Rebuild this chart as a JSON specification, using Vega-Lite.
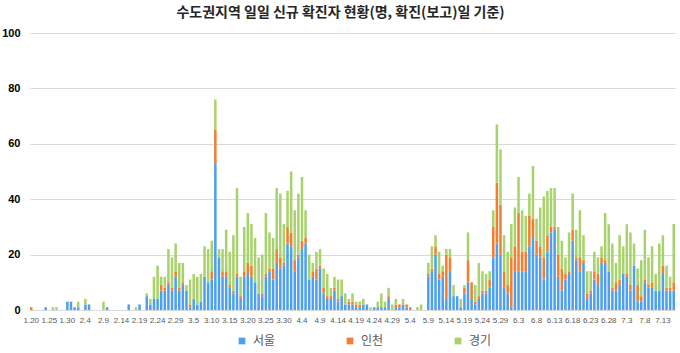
{
"$schema":"https://vega.github.io/schema/vega-lite/v6.json",
"width":645,"height":277,
"autosize":{"type":"none"},
"padding":{"left":30,"top":33,"right":5,"bottom":43},
"background":"white",
"title":{"text":"수도권지역 일일 신규 확진자 현황(명, 확진(보고)일 기준)","font":"Noto Sans CJK KR","fontSize":14,"fontWeight":"bold","color":"#262626","anchor":"middle","dx":-12,"offset":7},
"data":{"values":[
{"d":"1.20","서울":0,"인천":1,"경기":0},{"d":"1.21","서울":0,"인천":0,"경기":0},{"d":"1.22","서울":0,"인천":0,"경기":0},{"d":"1.23","서울":0,"인천":0,"경기":0},{"d":"1.24","서울":1,"인천":0,"경기":0},
{"d":"1.25","서울":0,"인천":0,"경기":0},{"d":"1.26","서울":0,"인천":0,"경기":1},{"d":"1.27","서울":0,"인천":0,"경기":1},{"d":"1.28","서울":0,"인천":0,"경기":0},{"d":"1.29","서울":0,"인천":0,"경기":0},
{"d":"1.30","서울":3,"인천":0,"경기":0},{"d":"1.31","서울":3,"인천":0,"경기":0},{"d":"2.1","서울":1,"인천":0,"경기":0},{"d":"2.2","서울":1,"인천":0,"경기":2},{"d":"2.3","서울":0,"인천":0,"경기":0},
{"d":"2.4","서울":2,"인천":0,"경기":2},{"d":"2.5","서울":2,"인천":0,"경기":0},{"d":"2.6","서울":0,"인천":0,"경기":0},{"d":"2.7","서울":0,"인천":0,"경기":0},{"d":"2.8","서울":0,"인천":0,"경기":0},
{"d":"2.9","서울":0,"인천":0,"경기":3},{"d":"2.10","서울":1,"인천":0,"경기":0},{"d":"2.11","서울":0,"인천":0,"경기":0},{"d":"2.12","서울":0,"인천":0,"경기":0},{"d":"2.13","서울":0,"인천":0,"경기":0},
{"d":"2.14","서울":0,"인천":0,"경기":0},{"d":"2.15","서울":0,"인천":0,"경기":0},{"d":"2.16","서울":2,"인천":0,"경기":0},{"d":"2.17","서울":0,"인천":0,"경기":0},{"d":"2.18","서울":0,"인천":0,"경기":1},
{"d":"2.19","서울":2,"인천":0,"경기":0},{"d":"2.20","서울":0,"인천":0,"경기":0},{"d":"2.21","서울":5,"인천":0,"경기":1},{"d":"2.22","서울":2,"인천":0,"경기":2},{"d":"2.23","서울":4,"인천":0,"경기":8},
{"d":"2.24","서울":4,"인천":0,"경기":12},{"d":"2.25","서울":7,"인천":2,"경기":3},{"d":"2.26","서울":7,"인천":1,"경기":4},{"d":"2.27","서울":9,"인천":1,"경기":12},{"d":"2.28","서울":7,"인천":1,"경기":11},
{"d":"2.29","서울":12,"인천":2,"경기":10},{"d":"3.1","서울":7,"인천":1,"경기":9},{"d":"3.2","서울":9,"인천":1,"경기":7},{"d":"3.3","서울":7,"인천":0,"경기":2},{"d":"3.4","서울":1,"인천":1,"경기":9},
{"d":"3.5","서울":4,"인천":0,"경기":9},{"d":"3.6","서울":2,"인천":0,"경기":10},{"d":"3.7","서울":3,"인천":0,"경기":10},{"d":"3.8","서울":12,"인천":0,"경기":11},{"d":"3.9","서울":10,"인천":0,"경기":12},
{"d":"3.10","서울":11,"인천":3,"경기":11},{"d":"3.11","서울":53,"인천":12,"경기":11},{"d":"3.12","서울":19,"인천":0,"경기":3},{"d":"3.13","서울":12,"인천":2,"경기":8},{"d":"3.14","서울":12,"인천":2,"경기":15},
{"d":"3.15","서울":8,"인천":1,"경기":12},{"d":"3.16","서울":6,"인천":1,"경기":20},{"d":"3.17","서울":12,"인천":1,"경기":31},{"d":"3.18","서울":4,"인천":1,"경기":7},{"d":"3.19","서울":12,"인천":2,"경기":16},
{"d":"3.20","서울":13,"인천":4,"경기":18},{"d":"3.21","서울":12,"인천":4,"경기":15},{"d":"3.22","서울":10,"인천":0,"경기":16},{"d":"3.23","서울":6,"인천":0,"경기":13},{"d":"3.24","서울":5,"인천":1,"경기":14},
{"d":"3.25","서울":12,"인천":1,"경기":22},{"d":"3.26","서울":14,"인천":1,"경기":13},{"d":"3.27","서울":11,"인천":4,"경기":11},{"d":"3.28","서울":17,"인천":5,"경기":22},{"d":"3.29","서울":15,"인천":4,"경기":23},
{"d":"3.30","서울":16,"인천":1,"경기":14},{"d":"3.31","서울":24,"인천":6,"경기":13},{"d":"4.1","서울":23,"인천":5,"경기":22},{"d":"4.2","서울":14,"인천":4,"경기":18},{"d":"4.3","서울":19,"인천":1,"경기":22},
{"d":"4.4","서울":22,"인천":3,"경기":23},{"d":"4.5","서울":24,"인천":2,"경기":10},{"d":"4.6","서울":11,"인천":0,"경기":9},{"d":"4.7","서울":12,"인천":2,"경기":3},{"d":"4.8","서울":11,"인천":4,"경기":6},
{"d":"4.9","서울":15,"인천":1,"경기":6},{"d":"4.10","서울":6,"인천":2,"경기":7},{"d":"4.11","서울":4,"인천":1,"경기":8},{"d":"4.12","서울":4,"인천":1,"경기":3},{"d":"4.13","서울":7,"인천":1,"경기":4},
{"d":"4.14","서울":3,"인천":1,"경기":7},{"d":"4.15","서울":5,"인천":0,"경기":6},{"d":"4.16","서울":2,"인천":0,"경기":4},{"d":"4.17","서울":2,"인천":1,"경기":1},{"d":"4.18","서울":2,"인천":1,"경기":3},
{"d":"4.19","서울":1,"인천":1,"경기":1},{"d":"4.20","서울":1,"인천":1,"경기":1},{"d":"4.21","서울":2,"인천":0,"경기":2},{"d":"4.22","서울":2,"인천":0,"경기":0},{"d":"4.23","서울":0,"인천":0,"경기":1},
{"d":"4.24","서울":1,"인천":0,"경기":0},{"d":"4.25","서울":1,"인천":0,"경기":2},{"d":"4.26","서울":1,"인천":0,"경기":5},{"d":"4.27","서울":1,"인천":0,"경기":2},{"d":"4.28","서울":4,"인천":1,"경기":3},
{"d":"4.29","서울":0,"인천":0,"경기":2},{"d":"4.30","서울":1,"인천":1,"경기":2},{"d":"5.1","서울":1,"인천":1,"경기":0},{"d":"5.2","서울":2,"인천":0,"경기":2},{"d":"5.3","서울":1,"인천":1,"경기":0},
{"d":"5.4","서울":0,"인천":1,"경기":0},{"d":"5.5","서울":0,"인천":0,"경기":0},{"d":"5.6","서울":0,"인천":0,"경기":1},{"d":"5.7","서울":0,"인천":0,"경기":2},{"d":"5.8","서울":0,"인천":0,"경기":0},
{"d":"5.9","서울":12,"인천":1,"경기":4},{"d":"5.10","서울":14,"인천":1,"경기":8},{"d":"5.11","서울":20,"인천":3,"경기":4},{"d":"5.12","서울":11,"인천":2,"경기":8},{"d":"5.13","서울":12,"인천":2,"경기":2},
{"d":"5.14","서울":4,"인천":16,"경기":2},{"d":"5.15","서울":14,"인천":5,"경기":3},{"d":"5.16","서울":5,"인천":0,"경기":4},{"d":"5.17","서울":5,"인천":0,"경기":0},{"d":"5.18","서울":1,"인천":0,"경기":3},
{"d":"5.19","서울":6,"인천":2,"경기":1},{"d":"5.20","서울":10,"인천":8,"경기":10},{"d":"5.21","서울":4,"인천":6,"경기":0},{"d":"5.22","서울":2,"인천":1,"경기":6},{"d":"5.23","서울":4,"인천":1,"경기":12},
{"d":"5.24","서울":6,"인천":1,"경기":7},{"d":"5.25","서울":6,"인천":1,"경기":6},{"d":"5.26","서울":8,"인천":3,"경기":3},{"d":"5.27","서울":19,"인천":11,"경기":6},{"d":"5.28","서울":24,"인천":22,"경기":21},
{"d":"5.29","서울":20,"인천":18,"경기":20},{"d":"5.30","서울":8,"인천":6,"경기":13},{"d":"5.31","서울":6,"인천":3,"경기":12},{"d":"6.1","서울":1,"인천":18,"경기":12},{"d":"6.2","서울":14,"인천":9,"경기":14},
{"d":"6.3","서울":14,"인천":21,"경기":13},{"d":"6.4","서울":14,"인천":7,"경기":15},{"d":"6.5","서울":14,"인천":7,"경기":13},{"d":"6.6","서울":23,"인천":11,"경기":8},{"d":"6.7","서울":26,"인천":7,"경기":19},
{"d":"6.8","서울":20,"인천":5,"경기":8},{"d":"6.9","서울":19,"인천":4,"경기":14},{"d":"6.10","서울":11,"인천":8,"경기":22},{"d":"6.11","서울":21,"인천":6,"경기":16},{"d":"6.12","서울":28,"인천":2,"경기":14},
{"d":"6.13","서울":29,"인천":1,"경기":14},{"d":"6.14","서울":12,"인천":8,"경기":10},{"d":"6.15","서울":7,"인천":8,"경기":10},{"d":"6.16","서울":11,"인천":2,"경기":6},{"d":"6.17","서울":13,"인천":1,"경기":14},
{"d":"6.18","서울":25,"인천":4,"경기":13},{"d":"6.19","서울":18,"인천":1,"경기":10},{"d":"6.20","서울":14,"인천":5,"경기":17},{"d":"6.21","서울":17,"인천":1,"경기":9},{"d":"6.22","서울":4,"인천":2,"경기":8},
{"d":"6.23","서울":6,"인천":1,"경기":7},{"d":"6.24","서울":11,"인천":3,"경기":7},{"d":"6.25","서울":9,"인천":4,"경기":6},{"d":"6.26","서울":17,"인천":2,"경기":4},{"d":"6.27","서울":17,"인천":1,"경기":17},
{"d":"6.28","서울":14,"인천":0,"경기":17},{"d":"6.29","서울":7,"인천":1,"경기":16},{"d":"6.30","서울":7,"인천":3,"경기":7},{"d":"7.1","서울":9,"인천":2,"경기":16},{"d":"7.2","서울":13,"인천":0,"경기":10},
{"d":"7.3","서울":12,"인천":1,"경기":18},{"d":"7.4","서울":7,"인천":2,"경기":19},{"d":"7.5","서울":16,"인천":0,"경기":8},{"d":"7.6","서울":3,"인천":6,"경기":6},{"d":"7.7","서울":3,"인천":2,"경기":13},
{"d":"7.8","서울":10,"인천":1,"경기":18},{"d":"7.9","서울":8,"인천":1,"경기":10},{"d":"7.10","서울":8,"인천":2,"경기":13},{"d":"7.11","서울":7,"인천":0,"경기":6},{"d":"7.12","서울":7,"인천":0,"경기":17},
{"d":"7.13","서울":13,"인천":3,"경기":11},{"d":"7.14","서울":7,"인천":1,"경기":8},{"d":"7.15","서울":7,"인천":1,"경기":4},{"d":"7.16","서울":7,"인천":3,"경기":21}
]},
"transform":[
 {"fold":["서울","인천","경기"],"as":["region","value"]},
 {"window":[{"op":"row_number","as":"k"}],"groupby":["d"]}
],
"mark":{"type":"bar"},
"encoding":{
"x":{"field":"d","type":"ordinal","sort":null,"scale":{"paddingInner":0.3,"paddingOuter":0},
 "axis":{"title":null,"values":["1.20","1.25","1.30","2.4","2.9","2.14","2.19","2.24","2.29","3.5","3.10","3.15","3.20","3.25","3.30","4.4","4.9","4.14","4.19","4.24","4.29","5.4","5.9","5.14","5.19","5.24","5.29","6.3","6.8","6.13","6.18","6.23","6.28","7.3","7.8","7.13"],
 "labelAngle":0,"labelFont":"Liberation Sans","labelFontSize":8,"labelColor":"#595959","ticks":false,"domain":true,"domainColor":"#d9d9d9","labelPadding":6,"labelOverlap":false}},
"y":{"field":"value","type":"quantitative","stack":"zero","scale":{"domain":[0,100]},
 "axis":{"title":null,"values":[0,20,40,60,80,100],"grid":true,"gridColor":"#d9d9d9","domain":false,"ticks":false,"labelFont":"Liberation Sans","labelFontSize":11,"labelFontWeight":"bold","labelColor":"#000000","labelPadding":10}},
"order":{"field":"k","type":"quantitative","sort":"ascending"},
"color":{"field":"region","type":"nominal","sort":["서울","인천","경기"],
 "scale":{"domain":["서울","인천","경기"],"range":["#4DA0F0","#F47E30","#A8D26C"]},
 "legend":{"title":null,"orient":"none","direction":"horizontal","legendX":206,"legendY":302,"padding":0,"columns":3,"columnPadding":68,"symbolType":"square","symbolSize":45,"symbolStrokeWidth":0,"labelFont":"Noto Sans CJK KR","labelFontSize":12,"labelColor":"#595959","labelOffset":5}}
},
"config":{"view":{"stroke":null}}
}
